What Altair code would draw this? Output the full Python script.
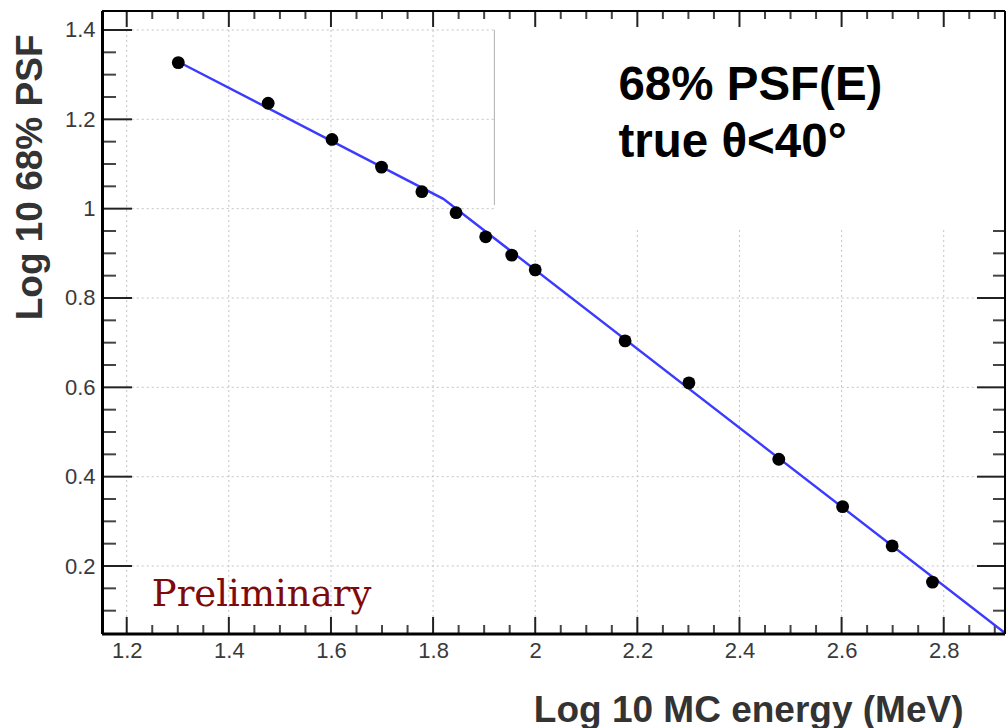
import altair as alt
import pandas as pd

# ---- data ----
energy_log = [1.301, 1.477, 1.602, 1.699, 1.778, 1.845, 1.903, 1.954, 2.0,
              2.176, 2.301, 2.477, 2.602, 2.699, 2.778]
psf_log = [1.327, 1.236, 1.155, 1.093, 1.038, 0.991, 0.937, 0.896, 0.863,
           0.704, 0.610, 0.439, 0.333, 0.245, 0.164]
fit_x = [1.301, 1.82, 2.92]
fit_y = [1.329, 1.022, 0.05]

x_major = [1.2, 1.4, 1.6, 1.8, 2.0, 2.2, 2.4, 2.6, 2.8]
x_minor = [1.25, 1.3, 1.35, 1.45, 1.5, 1.55, 1.65, 1.7, 1.75, 1.85, 1.9, 1.95,
           2.05, 2.1, 2.15, 2.25, 2.3, 2.35, 2.45, 2.5, 2.55, 2.65, 2.7, 2.75,
           2.85, 2.9]
y_major = [0.2, 0.4, 0.6, 0.8, 1.0, 1.2, 1.4]
y_minor = [0.1, 0.15, 0.25, 0.3, 0.35, 0.45, 0.5, 0.55, 0.65, 0.7, 0.75, 0.85,
           0.9, 0.95, 1.05, 1.1, 1.15, 1.25, 1.3, 1.35]

XDOM = [1.1516, 2.92]
YDOM = [0.0478, 1.4425]

# annotation anchors (data units)
label_main = ["68% PSF(E)", "true θ<40°"]
label_x = [2.163, 2.163]
label_y = [1.243, 1.116]
prelim_text = ["Preliminary"]
prelim_x = [1.249]
prelim_y = [0.111]
# pasted white box that hides the grid in the upper right
cover_x = [1.92, 2.92]
cover_y = [0.957, 1.405]

W, H = 903, 623
FONT = "Liberation Sans"

xs = alt.Scale(domain=XDOM, nice=False, zero=False)
ys = alt.Scale(domain=YDOM, nice=False, zero=False)

xaxis = alt.Axis(values=x_major, format="~g", domain=False, ticks=False, grid=False,
                 labelFont=FONT, labelFontSize=22, labelColor="#3a3a3a", labelPadding=6,
                 title="Log 10 MC energy (MeV)", titleFont=FONT, titleFontSize=37,
                 titleFontWeight="bold", titleColor="#333333", titleAlign="right",
                 titleBaseline="alphabetic", titleX=861, titleY=87)
yaxis = alt.Axis(values=y_major, format="~g", domain=False, ticks=False, grid=False,
                 labelFont=FONT, labelFontSize=22, labelColor="#3a3a3a", labelPadding=7,
                 title="Log 10 68% PSF", titleFont=FONT, titleFontSize=37,
                 titleFontWeight="bold", titleColor="#333333", titleAlign="right",
                 titleBaseline="alphabetic", titleAngle=270, titleX=-61, titleY=23)


def X(f):
    return alt.X(f, type="quantitative", scale=xs, axis=xaxis)


def Y(f):
    return alt.Y(f, type="quantitative", scale=ys, axis=yaxis)


grid_style = dict(color="#c4c4c4", strokeWidth=1, strokeDash=[2, 3])

vgrid = alt.Chart(pd.DataFrame({"x": x_major, "y1": [1.4] * len(x_major),
                                "y2": [YDOM[0]] * len(x_major)})).mark_rule(**grid_style).encode(
    x=X("x"), y=Y("y1"), y2="y2")
hgrid = alt.Chart(pd.DataFrame({"y": y_major, "x1": [1.2] * len(y_major),
                                "x2": [XDOM[1]] * len(y_major)})).mark_rule(**grid_style).encode(
    y=Y("y"), x=X("x1"), x2="x2")

dfx_maj = pd.DataFrame({"v": x_major})
dfx_min = pd.DataFrame({"v": x_minor})
dfy_maj = pd.DataFrame({"v": y_major})
dfy_min = pd.DataFrame({"v": y_minor})

maj = dict(color="#222222", strokeWidth=2)
mnr = dict(color="#444444", strokeWidth=2)

ticks = [
    alt.Chart(dfx_maj).mark_rule(**maj).encode(x=X("v"), y=alt.value(H), y2=alt.value(H - 17)),
    alt.Chart(dfx_min).mark_rule(**mnr).encode(x=X("v"), y=alt.value(H), y2=alt.value(H - 9)),
    alt.Chart(dfx_maj).mark_rule(**maj).encode(x=X("v"), y=alt.value(0), y2=alt.value(16)),
    alt.Chart(dfx_min).mark_rule(**mnr).encode(x=X("v"), y=alt.value(0), y2=alt.value(8)),
    alt.Chart(dfy_maj).mark_rule(**maj).encode(y=Y("v"), x=alt.value(0), x2=alt.value(30)),
    alt.Chart(dfy_min).mark_rule(**mnr).encode(y=Y("v"), x=alt.value(0), x2=alt.value(14)),
    alt.Chart(dfy_maj).mark_rule(**maj).encode(y=Y("v"), x=alt.value(W), x2=alt.value(W - 28)),
    alt.Chart(dfy_min).mark_rule(**mnr).encode(y=Y("v"), x=alt.value(W), x2=alt.value(W - 12)),
]

cover = alt.Chart(pd.DataFrame({"x1": [cover_x[0]], "x2": [cover_x[1]],
                                "y1": [cover_y[0]], "y2": [cover_y[1]]})).mark_rect(
    color="white", opacity=1).encode(x=X("x1"), x2="x2", y=Y("y1"), y2="y2")
cover_edge = alt.Chart(pd.DataFrame({"x": [cover_x[0]], "y1": [1.4], "y2": [1.008]})).mark_rule(
    color="#b0b0b0", strokeWidth=1).encode(x=X("x"), y=Y("y1"), y2="y2")

fit = alt.Chart(pd.DataFrame({"x": fit_x, "y": fit_y})).mark_line(
    color="#3b3bff", strokeWidth=2.4, clip=True).encode(x=X("x"), y=Y("y"))

pts = alt.Chart(pd.DataFrame({"x": energy_log, "y": psf_log})).mark_circle(
    size=165, color="black", opacity=1).encode(x=X("x"), y=Y("y"))

txt = alt.Chart(pd.DataFrame({"x": label_x, "y": label_y, "t": label_main})).mark_text(
    align="left", baseline="alphabetic", font=FONT, fontSize=47.5, fontWeight="bold",
    color="black").encode(x=X("x"), y=Y("y"), text="t:N")

prelim = alt.Chart(pd.DataFrame({"x": prelim_x, "y": prelim_y, "t": prelim_text})).mark_text(
    align="left", baseline="alphabetic", font="DejaVu Serif", fontSize=37,
    color="#7f0a0a").encode(x=X("x"), y=Y("y"), text="t:N")

frame = [
    alt.Chart(pd.DataFrame({"a": [0]})).mark_rule(color="black", strokeWidth=3).encode(
        x=alt.value(0.5), y=alt.value(0), y2=alt.value(H)),
    alt.Chart(pd.DataFrame({"a": [0]})).mark_rule(color="black", strokeWidth=3).encode(
        x=alt.value(0), x2=alt.value(W), y=alt.value(H)),
    alt.Chart(pd.DataFrame({"a": [0]})).mark_rule(color="black", strokeWidth=2).encode(
        x=alt.value(0), x2=alt.value(W), y=alt.value(0)),
    alt.Chart(pd.DataFrame({"a": [0]})).mark_rule(color="black", strokeWidth=2).encode(
        x=alt.value(W), y=alt.value(0), y2=alt.value(H)),
]

chart = alt.layer(
    vgrid, hgrid, *ticks, cover, cover_edge, fit, pts, txt, prelim, *frame
).properties(
    width=W, height=H,
    padding={"left": 102, "top": 11, "right": 1, "bottom": 94},
    autosize=alt.AutoSizeParams(type="none"),
).configure_view(stroke=None)

chart.save("out.html", embed_options={"renderer": "svg", "actions": False})
